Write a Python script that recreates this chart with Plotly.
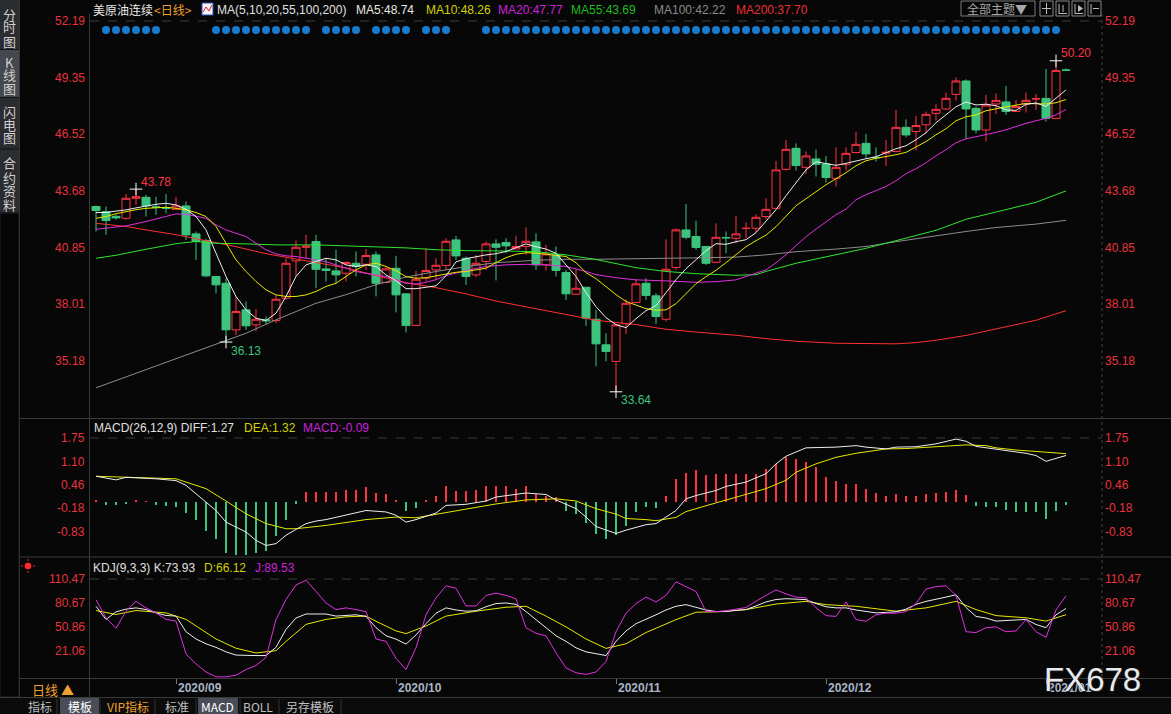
import plotly.graph_objects as go

# ---------------------------------------------------------------- data
IDX = list(range(98))
OPEN = [42.91, 42.66, 42.42, 42.32, 43.32, 43.37, 42.90, 42.86, 42.77, 42.94,
        41.54, 41.21, 39.41, 39.07, 36.74, 37.74, 36.99, 37.24, 37.21, 38.32,
        40.19, 40.87, 41.16, 39.79, 39.69, 39.57, 40.07, 40.02, 40.49, 39.11,
        39.82, 38.54, 36.96, 39.32, 39.74, 39.96, 41.24, 40.32, 39.49, 40.16,
        41.04, 41.11, 40.79, 40.91, 41.14, 39.99, 40.49, 39.61, 38.52, 38.87,
        37.27, 35.99, 35.16, 37.04, 38.11, 39.07, 38.44, 37.27, 39.86, 41.74,
        41.41, 40.91, 40.12, 41.36, 41.32, 41.81, 41.82, 42.41, 42.82, 44.77,
        45.82, 44.87, 45.29, 45.04, 44.32, 45.00, 45.61, 46.07, 45.37, 45.58,
        45.66, 46.87, 46.66, 47.00, 47.57, 47.79, 48.52, 49.19, 47.82, 46.74,
        48.04, 48.14, 47.66, 48.03, 48.29, 48.32, 47.32, 49.74]
HIGH = [42.95, 42.91, 42.50, 43.54, 43.78, 43.49, 43.40, 43.54, 43.40, 43.16,
        41.66, 41.30, 39.41, 39.32, 38.41, 38.16, 37.77, 37.41, 38.49, 40.32,
        41.21, 41.49, 41.49, 40.32, 40.74, 40.16, 40.66, 40.79, 40.66, 39.91,
        40.44, 38.57, 39.69, 40.82, 40.32, 41.32, 41.44, 40.41, 40.49, 41.16,
        41.27, 41.32, 41.44, 41.87, 41.57, 40.99, 40.91, 39.74, 39.77, 38.87,
        37.74, 36.57, 37.00, 38.27, 39.24, 39.32, 38.57, 41.27, 41.82, 43.04,
        42.20, 40.91, 42.07, 41.66, 42.44, 42.12, 42.52, 43.32, 45.19, 46.24,
        46.07, 45.66, 45.77, 45.44, 45.87, 45.87, 46.66, 46.54, 45.87, 46.24,
        47.74, 47.27, 47.44, 47.66, 48.02, 48.61, 49.37, 49.27, 47.91, 48.49,
        48.57, 48.94, 48.24, 48.62, 48.54, 49.79, 50.20, 49.81]
LOW = [41.66, 41.49, 42.25, 42.24, 42.99, 42.41, 42.49, 42.57, 42.74, 41.24,
       40.24, 39.37, 38.57, 36.13, 36.49, 36.74, 36.66, 37.00, 37.07, 38.24,
       39.41, 40.32, 38.82, 39.16, 39.07, 39.16, 39.41, 39.74, 38.41, 39.07,
       37.61, 36.61, 36.94, 39.16, 39.24, 39.74, 40.24, 38.99, 39.37, 39.74,
       39.21, 40.57, 40.77, 40.49, 39.74, 39.71, 39.41, 38.24, 38.49, 36.94,
       34.91, 35.16, 33.64, 36.54, 38.07, 38.24, 37.04, 37.16, 39.74, 41.27,
       40.74, 39.99, 40.07, 40.57, 41.07, 41.32, 41.61, 42.27, 42.77, 44.71,
       44.71, 44.54, 44.41, 44.11, 43.91, 44.71, 45.57, 45.32, 45.16, 44.94,
       45.61, 46.37, 45.71, 46.57, 47.21, 47.74, 48.21, 46.27, 46.57, 46.16,
       47.54, 47.49, 47.64, 47.61, 47.74, 47.16, 47.27, 49.71]
CLOSE = [42.71, 42.21, 42.34, 43.32, 43.40, 42.94, 42.87, 42.82, 42.94, 41.49,
         41.16, 39.44, 38.99, 36.74, 37.66, 36.94, 37.27, 37.19, 38.27, 40.07,
         40.87, 40.92, 39.77, 39.71, 39.49, 40.11, 39.91, 40.46, 39.07, 39.79,
         38.49, 36.96, 39.27, 39.71, 39.97, 41.17, 40.44, 39.41, 40.07, 41.04,
         40.87, 40.94, 40.91, 41.17, 39.99, 40.54, 39.71, 38.54, 38.82, 37.32,
         36.04, 35.66, 36.99, 38.07, 39.04, 38.46, 37.41, 39.77, 41.74, 41.37,
         40.86, 40.07, 41.37, 41.34, 41.54, 41.82, 42.37, 42.77, 44.74, 45.77,
         44.96, 45.44, 45.02, 44.36, 44.87, 45.57, 46.02, 45.54, 45.35, 45.62,
         46.87, 46.49, 46.96, 47.52, 47.77, 48.32, 49.19, 47.79, 46.74, 47.99,
         48.22, 47.66, 47.91, 48.22, 48.30, 47.32, 49.71, 49.73]

MA5_VAL = [42.61, 42.61, 42.68, 42.74, 42.84, 42.94, 43.02, 43.07, 42.99, 42.77,
           42.41, 41.74, 40.57, 39.41, 38.41, 37.74, 37.32, 37.21, 37.57, 38.41,
           39.41, 39.99, 40.16, 40.32, 40.24, 39.99, 39.91, 39.99, 39.91, 39.49,
           39.20, 38.80, 38.80, 38.88, 38.94, 39.45, 40.14, 40.30, 40.40, 40.49,
           40.55, 40.66, 40.85, 41.04, 40.90, 40.78, 40.57, 40.00, 39.41, 38.60,
           37.90, 37.35, 37.00, 36.85, 37.30, 37.70, 37.95, 38.60, 39.25, 39.80,
           40.25, 40.70, 41.05, 41.02, 41.15, 41.25, 41.60, 42.20, 42.75, 43.45,
           44.10, 44.74, 45.15, 45.05, 44.97, 45.07, 45.20, 45.30, 45.40, 45.60,
           45.80, 45.95, 46.25, 46.60, 47.10, 47.50, 47.90, 48.14, 47.99, 48.03,
           47.95, 47.74, 47.72, 48.02, 48.09, 47.92, 48.35, 48.74]
MA10_VAL = [42.32, 42.41, 42.55, 42.66, 42.75, 42.82, 42.85, 42.87, 42.82, 42.74,
            42.61, 42.41, 41.91, 41.07, 40.24, 39.66, 39.16, 38.74, 38.49, 38.41,
            38.41, 38.49, 38.66, 38.91, 39.07, 39.41, 39.74, 39.99, 40.07, 39.91,
            39.70, 39.40, 39.32, 39.35, 39.44, 39.55, 39.62, 39.66, 39.75, 39.82,
            40.10, 40.35, 40.52, 40.60, 40.58, 40.52, 40.47, 40.41, 40.10, 39.60,
            39.30, 38.90, 38.50, 38.16, 37.98, 37.80, 37.72, 37.74, 38.05, 38.55,
            39.05, 39.40, 39.72, 40.10, 40.50, 40.90, 41.20, 41.48, 41.90, 42.45,
            42.95, 43.30, 43.65, 44.00, 44.30, 44.60, 44.95, 45.20, 45.32, 45.40,
            45.50, 45.62, 45.90, 46.16, 46.50, 46.80, 47.20, 47.40, 47.49, 47.70,
            47.80, 47.90, 48.00, 48.07, 48.05, 48.04, 48.10, 48.26]
MA20_X = [0, 1, 3, 5, 7, 8, 9, 11, 12, 13, 14, 15, 16, 17, 18, 19, 20, 21, 22, 23,
          24, 25, 26, 27, 28, 29, 30, 31, 32, 33, 34, 35, 37, 39, 41, 43, 45, 47,
          49, 50, 52, 54, 57, 60, 62, 64, 65, 67, 68, 69, 70, 71, 72, 73, 74, 75,
          76, 77, 78, 79, 80, 81, 82, 83, 84, 85, 86, 87, 88, 89, 90, 91, 92, 93,
          94, 95, 96, 97]
MA20_Y = [41.77, 41.82, 41.94, 42.16, 42.41, 42.54, 42.52, 42.32, 41.99, 41.74,
          41.57, 41.41, 41.07, 40.74, 40.54, 40.44, 40.41, 40.32, 40.24, 40.15,
          39.99, 39.82, 39.66, 39.57, 39.49, 39.41, 39.24, 39.07, 39.03, 39.12,
          39.25, 39.45, 39.71, 39.91, 39.99, 40.02, 39.99, 39.91, 39.66, 39.50,
          39.35, 39.24, 39.19, 39.12, 39.15, 39.24, 39.41, 39.74, 40.10, 40.50,
          40.95, 41.40, 41.78, 42.12, 42.50, 42.78, 43.25, 43.50, 43.70, 43.91,
          44.20, 44.55, 44.80, 45.10, 45.45, 45.75, 46.10, 46.30, 46.40, 46.50,
          46.62, 46.75, 46.92, 47.07, 47.20, 47.32, 47.49, 47.77]
MA55_X = [0, 2, 5, 8, 10, 12, 15, 18, 22, 25, 28, 31, 34, 37, 40, 44, 47, 50, 54,
          57, 60, 64, 66, 67, 70, 74, 77, 80, 84, 87, 90, 94, 97]
MA55_Y = [40.32, 40.47, 40.77, 41.05, 41.16, 41.07, 41.04, 40.99, 40.99, 40.94,
          40.91, 40.84, 40.75, 40.70, 40.69, 40.65, 40.49, 40.26, 39.85, 39.66,
          39.55, 39.47, 39.50, 39.66, 40.07, 40.52, 40.82, 41.20, 41.72, 42.27,
          42.62, 43.12, 43.69]
MA100_X = [0, 5, 10, 15, 18, 22, 25, 28, 31, 34, 37, 40, 44, 47, 50, 54, 57, 61,
           64, 67, 70, 74, 77, 80, 84, 87, 90, 94, 97]
MA100_Y = [33.84, 34.75, 35.66, 36.57, 37.24, 38.07, 38.50, 39.00, 39.38, 39.66,
           39.90, 40.10, 40.22, 40.27, 40.27, 40.28, 40.32, 40.35, 40.38, 40.49,
           40.65, 40.78, 40.91, 41.15, 41.45, 41.66, 41.86, 42.03, 42.22]
MA200_X = [0, 3, 5, 8, 11, 14, 17, 21, 25, 28, 31, 34, 37, 40, 44, 47, 50, 54, 57,
           60, 64, 67, 70, 74, 77, 80, 82, 84, 87, 90, 94, 97]
MA200_Y = [42.07, 41.91, 41.74, 41.50, 41.20, 40.90, 40.55, 40.20, 39.84, 39.45,
           39.10, 38.85, 38.54, 38.18, 37.80, 37.49, 37.22, 37.00, 36.77, 36.63,
           36.47, 36.30, 36.17, 36.07, 36.04, 36.04, 36.10, 36.22, 36.46, 36.80,
           37.22, 37.70]

SIGNAL_RUNS = [(1, 6), (12, 21), (23, 26), (28, 31), (33, 35), (39, 96)]

MACD_HIST = [0.03, -0.10, -0.10, -0.06, 0.03, 0.02, -0.08, -0.12, -0.14, -0.30,
             -0.50, -0.80, -1.03, -1.40, -1.45, -1.45, -1.40, -1.35, -0.95, -0.50,
             -0.05, 0.26, 0.26, 0.26, 0.26, 0.33, 0.33, 0.40, 0.24, 0.22,
             0.05, -0.25, -0.16, 0.05, 0.17, 0.44, 0.29, 0.29, 0.31, 0.44,
             0.44, 0.44, 0.36, 0.42, 0.22, 0.17, 0.13, -0.24, -0.33, -0.58,
             -0.89, -1.02, -0.91, -0.66, -0.29, -0.14, -0.17, 0.16, 0.62, 0.80,
             0.87, 0.73, 0.77, 0.77, 0.77, 0.76, 0.77, 0.89, 1.03, 1.23,
             1.17, 1.10, 0.96, 0.69, 0.56, 0.50, 0.48, 0.36, 0.23, 0.16,
             0.21, 0.16, 0.16, 0.21, 0.23, 0.27, 0.33, 0.18, -0.13, -0.14,
             -0.15, -0.23, -0.27, -0.27, -0.27, -0.46, -0.25, -0.09]
DIFF_X = [0, 2, 3, 6, 8, 9, 10, 11, 12, 13, 15, 16, 17, 18, 19, 21, 22, 23, 25, 26,
          27, 29, 30, 31, 32, 34, 35, 37, 39, 40, 42, 43, 45, 46, 48, 49, 50, 52, 53,
          55, 56, 58, 59, 60, 62, 63, 65, 66, 67, 68, 69, 71, 73, 74, 76, 77, 79, 80,
          82, 83, 84, 86, 87, 88, 90, 91, 93, 94, 95, 96, 97]
DIFF_Y = [0.70, 0.60, 0.67, 0.63, 0.58, 0.45, 0.22, -0.01, -0.24, -0.56,
          -0.83, -1.06, -1.20, -1.15, -0.92, -0.60, -0.53, -0.49, -0.37, -0.31,
          -0.24, -0.28, -0.37, -0.56, -0.49, -0.31, -0.10, -0.07, 0.02, 0.13,
          0.20, 0.24, 0.20, 0.05, -0.19, -0.42, -0.68, -0.87, -0.78, -0.63,
          -0.60, -0.24, 0.08, 0.17, 0.31, 0.42, 0.54, 0.66, 0.77, 1.04,
          1.25, 1.48, 1.48, 1.50, 1.54, 1.50, 1.45, 1.50, 1.51, 1.54,
          1.59, 1.72, 1.66, 1.52, 1.45, 1.40, 1.33, 1.27, 1.11, 1.19, 1.27]
DEA_X = [0, 4, 8, 9, 11, 13, 15, 17, 19, 20, 23, 27, 30, 32, 36, 40, 43, 46, 48, 50,
         52, 53, 55, 56, 58, 59, 61, 63, 65, 67, 69, 70, 72, 74, 76, 78, 79, 81, 83,
         85, 87, 89, 90, 92, 94, 96, 97]
DEA_Y = [0.70, 0.67, 0.63, 0.54, 0.36, 0.02, -0.33, -0.60, -0.74, -0.74,
         -0.65, -0.49, -0.42, -0.44, -0.24, -0.06, 0.05, 0.08, 0.02, -0.19,
         -0.34, -0.46, -0.49, -0.52, -0.43, -0.27, -0.11, 0.04, 0.19, 0.36,
         0.59, 0.81, 1.04, 1.22, 1.33, 1.40, 1.45, 1.46, 1.49, 1.54,
         1.56, 1.54, 1.48, 1.42, 1.38, 1.32, 1.32]

K_VAL = [76.6, 60.3, 69.7, 73.0, 74.6, 72.5, 68.4, 65.2, 64.4, 45.0,
         36.0, 30.0, 25.6, 20.0, 16.0, 15.4, 15.4, 15.4, 25.6, 48.0,
         62.0, 67.0, 67.0, 67.0, 64.4, 65.0, 66.0, 64.0, 50.0, 40.0,
         35.8, 29.6, 41.0, 55.0, 68.0, 74.6, 72.0, 70.5, 71.0, 76.0,
         80.0, 80.7, 79.0, 70.0, 60.0, 50.0, 40.0, 33.0, 25.0, 20.0,
         17.4, 15.4, 33.0, 46.0, 55.0, 60.0, 66.0, 72.0, 76.6, 78.6,
         75.0, 72.0, 70.0, 70.0, 71.5, 72.5, 77.0, 82.0, 85.0, 86.0,
         85.5, 84.8, 80.0, 76.0, 74.6, 74.6, 72.0, 70.5, 68.4, 69.0,
         69.7, 73.0, 79.0, 82.7, 85.0, 88.0, 90.9, 75.0, 64.0, 62.0,
         58.2, 59.0, 60.3, 60.3, 54.0, 50.0, 66.0, 73.93]
D_X = [0, 2, 4, 7, 9, 10, 12, 14, 16, 18, 19, 21, 23, 25, 27, 28, 30, 31, 33, 35,
       38, 41, 43, 45, 47, 49, 51, 53, 55, 58, 60, 62, 65, 68, 71, 73, 76, 80, 83,
       86, 88, 90, 93, 95, 97]
D_Y = [71.3, 66.4, 71.3, 68.4, 60.3, 52.0, 36.0, 24.5, 18.6, 21.5,
       33.0, 54.1, 60.3, 63.5, 64.4, 58.0, 46.0, 42.7, 52.1, 64.4,
       70.5, 75.4, 76.6, 64.4, 51.0, 36.0, 24.3, 30.0, 44.0, 60.0,
       69.2, 69.7, 72.5, 79.4, 82.7, 78.6, 76.6, 70.5, 74.6, 82.7,
       72.5, 65.0, 62.3, 58.2, 66.12]
J_VAL = [84.8, 62.3, 49.2, 70.5, 82.7, 74.6, 68.4, 60.3, 58.2, 17.4,
         5.0, -5.0, -11.0, -11.0, -9.0, -2.0, 3.0, 13.0, 60.0, 85.0,
         103.0, 109.0, 95.0, 80.7, 72.5, 74.6, 72.5, 70.0, 36.0, 33.0,
         12.0, -2.0, 25.0, 66.0, 87.0, 102.0, 99.0, 77.0, 77.0, 90.0,
         93.0, 90.0, 86.0, 50.0, 43.0, 40.0, 19.0, 0.0, -6.0, -8.0,
         -5.0, 8.0, 45.0, 68.0, 80.0, 88.0, 82.0, 90.0, 107.0, 101.0,
         95.0, 70.0, 70.0, 71.0, 73.0, 75.0, 83.0, 90.0, 97.0, 92.0,
         88.0, 87.0, 75.0, 65.0, 64.0, 82.0, 60.0, 58.0, 66.0, 68.0,
         68.0, 70.0, 80.0, 98.0, 101.0, 102.0, 90.0, 45.0, 44.0, 50.0,
         51.0, 45.0, 46.0, 60.0, 45.0, 38.0, 72.0, 89.53]

MONTH_IDX = [8, 30, 52, 73, 95]
MONTH_TXT = ['2020/09', '2020/10', '2020/11', '2020/12', '2021/01']
PRICE_TICKS = [52.19, 49.35, 46.52, 43.68, 40.85, 38.01, 35.18]
MACD_TICKS = [1.75, 1.10, 0.46, -0.18, -0.83]
KDJ_TICKS = [110.47, 80.67, 50.86, 21.06]

# ---------------------------------------------------------------- style / layout constants
W, H = 1171, 714
BG = '#070707'
RED = '#ff3344'
GREEN = '#3cc47e'
AXRED = '#e8323c'
WHITE = '#eeeeee'
YEL = '#e8e800'
MAG = '#e030e0'
LGRN = '#2ee62e'
GRAY = '#8c8c8c'
MRED = '#ff3030'
FONT = 'Liberation Sans, Arial, Noto Sans CJK SC, sans-serif'
CJK = 'Noto Sans CJK SC, Liberation Sans, sans-serif'

X_LEFT, X_RIGHT, IDX0_PX, STEP_PX = 90, 1102, 96, 10
XR = [(X_LEFT - IDX0_PX) / STEP_PX, (X_RIGHT - IDX0_PX) / STEP_PX]


def fx(x):
    return x / W


def fy(y):
    return 1 - y / H


def panel(top, bot, vref, yref, ppu):
    return dict(domain=[fy(bot), fy(top)],
                range=[vref - (bot - yref) / ppu, vref + (yref - top) / ppu])


P_MAIN = panel(14, 418, 52.19, 21, 19.99)
P_MACD = panel(419, 556, 1.75, 438, 36.43)
P_KDJ = panel(557, 678, 110.47, 579, 0.8053)


def price_at_px(y):
    return 52.19 - (y - 21) / 19.99


fig = go.Figure()

# candles
fig.add_trace(go.Candlestick(
    x=IDX, open=OPEN, high=HIGH, low=LOW, close=CLOSE,
    increasing=dict(line=dict(color=RED, width=1), fillcolor=BG),
    decreasing=dict(line=dict(color=GREEN, width=1), fillcolor=GREEN),
    whiskerwidth=0, hoverinfo='skip', xaxis='x', yaxis='y'))


def line(x, y, color, ax='', w=1.0):
    fig.add_trace(go.Scatter(x=x, y=y, mode='lines', line=dict(color=color, width=w),
                             hoverinfo='skip', xaxis='x' + ax, yaxis='y' + ax))


line(MA200_X, MA200_Y, MRED)
line(MA100_X, MA100_Y, GRAY)
line(MA55_X, MA55_Y, LGRN)
line(MA20_X, MA20_Y, MAG)
line(IDX, MA10_VAL, YEL)
line(IDX, MA5_VAL, WHITE)

# signal dots
sig = [i for a, b in SIGNAL_RUNS for i in range(a, b + 1)]
fig.add_trace(go.Scatter(x=sig, y=[price_at_px(30)] * len(sig), mode='markers',
                         marker=dict(color='#1a7acc', size=8, line=dict(width=0)),
                         hoverinfo='skip', xaxis='x', yaxis='y'))

# extreme markers
first = range(0, 30)
i_hi1 = max(first, key=lambda i: HIGH[i])
i_lo1 = min(first, key=lambda i: LOW[i])
i_hi2 = max(IDX, key=lambda i: HIGH[i])
i_lo2 = min(IDX, key=lambda i: LOW[i])
ext = [(i_hi1, HIGH[i_hi1], RED, 7), (i_lo1, LOW[i_lo1], GREEN, -9),
       (i_lo2, LOW[i_lo2], GREEN, -8), (i_hi2, HIGH[i_hi2], RED, 8)]
fig.add_trace(go.Scatter(x=[e[0] for e in ext], y=[e[1] for e in ext], mode='markers',
                         marker=dict(symbol='cross-thin', size=9, color='white',
                                     line=dict(color='white', width=1)),
                         hoverinfo='skip', xaxis='x', yaxis='y'))

# MACD
fig.add_trace(go.Bar(x=IDX, y=MACD_HIST, width=0.16,
                     marker=dict(color=[RED if v >= 0 else GREEN for v in MACD_HIST],
                                 line=dict(width=0)),
                     hoverinfo='skip', xaxis='x2', yaxis='y2'))
line(DEA_X, DEA_Y, YEL, '2')
line(DIFF_X, DIFF_Y, WHITE, '2')

# KDJ
line(D_X, D_Y, YEL, '3')
line(IDX, K_VAL, WHITE, '3')
line(IDX, J_VAL, MAG, '3')

# ---------------------------------------------------------------- annotations
ann = []


def text(x, y, s, color, size=12, xanchor='left', family=FONT, xref='paper',
         yref='paper', xshift=0, yshift=0):
    d = dict(text=s, showarrow=False, font=dict(color=color, size=size, family=family),
             xanchor=xanchor, yanchor='middle', xshift=xshift, yshift=yshift,
             xref=xref, yref=yref)
    d['x'] = fx(x) if xref == 'paper' else x
    d['y'] = fy(y) if yref == 'paper' else y
    ann.append(d)


for ticks, yr in ((PRICE_TICKS, 'y'), (MACD_TICKS, 'y2'), (KDJ_TICKS, 'y3')):
    for v in ticks:
        ann.append(dict(text=f'{v:.2f}', showarrow=False, xref='paper', yref=yr,
                        x=fx(87), y=v, xanchor='right', yanchor='middle',
                        font=dict(color=AXRED, size=12, family=FONT)))
        ann.append(dict(text=f'{v:.2f}', showarrow=False, xref='paper', yref=yr,
                        x=fx(1103), y=v, xanchor='left', yanchor='middle',
                        font=dict(color=AXRED, size=12, family=FONT)))

# legends
text(91, 10, '美原油连续', '#e8e8e8', 12, family=CJK)
text(152, 10, '&lt;日线&gt;', '#f0a030', 12, family=CJK)
text(215, 10, 'MA(5,10,20,55,100,200)', '#e0e0e0')
text(354, 10, f'MA5:{MA5_VAL[-1]:.2f}', '#e8e8e0')
text(424, 10, f'MA10:{MA10_VAL[-1]:.2f}', '#d2d200')
text(496, 10, f'MA20:{MA20_Y[-1]:.2f}', '#cc22dd')
text(569, 10, f'MA55:{MA55_Y[-1]:.2f}', '#22bb22')
text(652, 10, f'MA100:{MA100_Y[-1]:.2f}', '#8a8a8a')
text(734, 10, f'MA200:{MA200_Y[-1]:.2f}', '#e83030')

text(92, 428, f'MACD(26,12,9) DIFF:{DIFF_Y[-1]:.2f}', '#e0e0e0')
text(242, 428, f'DEA:{DEA_Y[-1]:.2f}', '#d2d200')
text(301, 428, f'MACD:{MACD_HIST[-1]:.2f}', '#cc22dd')

text(91, 568, f'KDJ(9,3,3) K:{K_VAL[-1]:.2f}', '#e0e0e0')
text(202, 568, f'D:{D_Y[-1]:.2f}', '#d2d200')
text(253, 568, f'J:{J_VAL[-1]:.2f}', '#cc22dd')

# extreme labels
for i, v, c, ys in ext:
    ann.append(dict(text=f'{v:.2f}', showarrow=False, xref='x', yref='y', x=i, y=v,
                    xanchor='left', yanchor='middle', xshift=3, yshift=ys,
                    font=dict(color=c, size=12, family=FONT)))

# sidebar text
side = [('分', 14), ('时', 27), ('图', 41), ('K', 62), ('线', 75), ('图', 88),
        ('闪', 111), ('电', 124), ('图', 137), ('合', 163), ('约', 177), ('资', 191), ('料', 204)]
for ch, y in side:
    text(9.5, y, ch, '#d0d0d0', 13, xanchor='center', family=CJK)

# date axis
text(53, 689, '日线 ▲', '#f0a030', 13, xanchor='center', family=CJK)
for i, s in zip(MONTH_IDX, MONTH_TXT):
    ann.append(dict(text=f'<b>{s}</b>', showarrow=False, xref='x3', yref='paper', x=i,
                    y=fy(688), xanchor='left', yanchor='middle', xshift=0,
                    font=dict(color='#a8b4c6', size=12, family=FONT)))

# toolbar
for s, xc, c in [('指标', 40, '#c0c0c0'), ('模板', 80, '#ffffff'), ('VIP指标', 128, '#f0a030'),
                 ('标准', 177, '#c0c0c0'), ('MACD', 217, '#ffffff'), ('BOLL', 258, '#c0c0c0'),
                 ('另存模板', 310, '#c0c0c0')]:
    text(xc, 706, s, c, 12, xanchor='center', family=CJK)

# top-right button
text(997, 9, '全部主题▼', '#a8a8a8', 12, xanchor='center', family=CJK)

# watermark
text(1092, 679, 'FX678', '#1a1a1a', 33, xanchor='center', xshift=1, yshift=-1)
text(1092, 679, 'FX678', '#e6eaee', 33, xanchor='center')

# ---------------------------------------------------------------- shapes
shapes = []


def rect(x0, y0, x1, y1, fill=None, lc=None, lw=1):
    shapes.append(dict(type='rect', xref='paper', yref='paper', x0=fx(x0), x1=fx(x1),
                       y0=fy(y1), y1=fy(y0), fillcolor=fill or 'rgba(0,0,0,0)',
                       line=dict(color=lc or 'rgba(0,0,0,0)', width=lw if lc else 0)))


def seg(x0, y0, x1, y1, color, w=1, dash='solid'):
    shapes.append(dict(type='line', xref='paper', yref='paper', x0=fx(x0), x1=fx(x1),
                       y0=fy(y0), y1=fy(y1), line=dict(color=color, width=w, dash=dash)))


# sidebar
rect(0, 0, 19, 213, fill='#2a2c30')
rect(0, 50, 19, 97, fill='#45484e')
for y in (49.5, 97.5, 149, 212.5):
    seg(0, y, 19, y, '#141416')
seg(19.5, 0, 19.5, 697, '#34363a')
rect(0, 213, 19, 697, fill='#050505', lc='#26282c')

# panel frame
seg(89.5, 14, 89.5, 697, '#3a3a3a')
seg(X_RIGHT, 14, X_RIGHT, 678, '#454545', 1, 'dot')
for y in (418.5, 557, 678.5):
    seg(19.5, y, W, y, '#3a3a3a')
seg(0, 697.5, W, 697.5, '#3a3a3a')

# top dashed level lines
for yr, v in (('y', PRICE_TICKS[0]), ('y2', MACD_TICKS[0]), ('y3', KDJ_TICKS[0])):
    shapes.append(dict(type='line', xref='paper', yref=yr, x0=fx(X_LEFT), x1=fx(X_RIGHT),
                       y0=v, y1=v, line=dict(color='#3c3c3c', width=1, dash='dash')))

# toolbar highlights & separators
rect(0, 698, W, 714, fill='#0b0b0b')
rect(60, 698, 99, 714, fill='#4a4d57')
rect(198, 698, 238, 714, fill='#4a4d57')
for x in (57, 100, 155, 196, 240, 279, 341):
    seg(x, 699, x, 714, '#333333')

# top-right button & icons
rect(961, 1, 1035, 16, lc='#7a7a7a')
for x0 in (1040, 1056, 1072, 1088):
    rect(x0, 1, x0 + 13, 16, lc='#8a8a8a')
seg(1046.5, 3, 1046.5, 14, '#bbbbbb')
seg(1042, 8.5, 1051, 8.5, '#bbbbbb')
seg(1059, 4, 1059, 14, '#bbbbbb')
seg(1059, 13.5, 1067, 13.5, '#bbbbbb')
seg(1063, 5, 1063, 12, '#bbbbbb')
seg(1075, 4, 1075, 14, '#bbbbbb')
seg(1075, 13.5, 1083, 13.5, '#bbbbbb')
shapes.append(dict(type='path', xref='paper', yref='paper',
                   path=f'M {fx(1078)} {fy(5)} L {fx(1083)} {fy(8.5)} L {fx(1078)} {fy(12)} Z',
                   fillcolor='#bbbbbb', line=dict(width=0)))
seg(1091, 4, 1091, 14, '#bbbbbb')
seg(1093, 8.5, 1099, 8.5, '#bbbbbb')

# legend icon
rect(202, 3, 213, 15, fill='#f4f4f4', lc='#3050c0')
shapes.append(dict(type='path', xref='paper', yref='paper',
                   path=f'M {fx(203)} {fy(12)} L {fx(206)} {fy(7)} L {fx(209)} {fy(11)} L {fx(212)} {fy(5)}',
                   line=dict(color='#e02020', width=1)))

# KDJ panel settings icon
shapes.append(dict(type='circle', xref='paper', yref='paper', x0=fx(25), x1=fx(31),
                   y0=fy(569), y1=fy(563), fillcolor='#ff2a2a', line=dict(color='#ff2a2a', width=1)))
for (a, b, c, d) in ((28, 559, 28, 561), (28, 571, 28, 573), (21, 566, 23, 566), (33, 566, 35, 566)):
    seg(a, b, c, d, '#ff2a2a')

# ---------------------------------------------------------------- layout
ax_common = dict(range=XR, domain=[fx(X_LEFT), fx(X_RIGHT)], showgrid=False, zeroline=False,
                 showticklabels=False, showline=False, fixedrange=True)
fig.update_layout(
    width=W, height=H, margin=dict(l=0, r=0, t=0, b=0),
    paper_bgcolor=BG, plot_bgcolor=BG, showlegend=False,
    boxgap=0.2, boxgroupgap=0, bargap=0,
    xaxis=dict(**ax_common, anchor='y', rangeslider=dict(visible=False)),
    xaxis2=dict(**ax_common, anchor='y2', matches='x'),
    xaxis3=dict(**ax_common, anchor='y3', matches='x', ticks='outside', ticklen=5,
                tickcolor='#777777', tickvals=MONTH_IDX),
    yaxis=dict(**P_MAIN, showgrid=False, zeroline=False, showticklabels=False, fixedrange=True),
    yaxis2=dict(**P_MACD, showgrid=False, zeroline=False, showticklabels=False, fixedrange=True),
    yaxis3=dict(**P_KDJ, showgrid=False, zeroline=False, showticklabels=False, fixedrange=True),
    annotations=ann, shapes=shapes,
)

fig.write_html('out.html', config={'displayModeBar': False},
               post_script="document.body.style.margin='0';document.body.style.overflow='hidden';"
                           "document.documentElement.style.background='#070707';")
